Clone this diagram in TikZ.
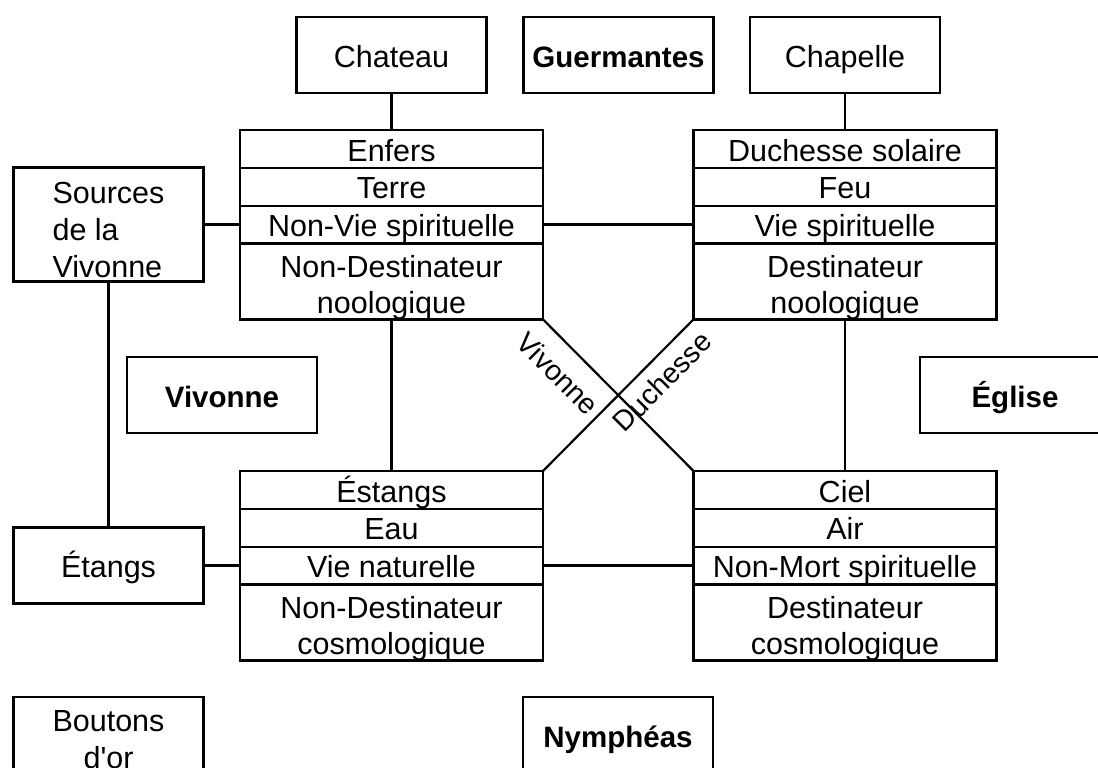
\documentclass[tikz,border=0pt]{standalone}
\usepackage{fontspec}
\setmainfont{Liberation Sans}
% several lines stacked, baseline on the first line
\newcommand\stacklines[2][c]{\begin{tabular}[t]{@{}#1@{}}#2\end{tabular}}
\begin{document}
\begin{tikzpicture}[x=1pt,y=-1pt,
  line width=2.2pt,
  every node/.style={inner sep=0pt,outer sep=0pt},
  txt/.style={font=\fontsize{30.5}{37}\selectfont},
  box/.style={txt,draw,minimum width=190pt,minimum height=76pt,text height=24.5pt,text depth=0pt},
  boldbox/.style={box,font=\fontsize{29.5}{37}\selectfont\bfseries},
  cell/.style={txt,draw,minimum width=303pt,minimum height=37.8pt,text height=24.5pt,text depth=0pt},
  dcell/.style={draw,minimum width=303pt,minimum height=76pt,text height=30pt,text depth=38.8pt,font=\fontsize{30.5}{36}\selectfont},
  diag/.style={font=\fontsize{28.5}{32}\selectfont,sloped,inner sep=0pt}
]
\useasboundingbox (0,0) rectangle (1098,768);
\clip (0,0) rectangle (1098,768);

% top row of boxes
\node[box] (chateau) at (391.5,55) {Chateau};
\node[boldbox] (guermantes) at (618.5,55) {Guermantes};
\node[box] (chapelle) at (845,55) {Chapelle};

% upper left table
\node[cell] (tl1) at (391.5,148.9) {Enfers};
\node[cell] (tl2) at (391.5,186.7) {Terre};
\node[cell] (tl3) at (391.5,224.5) {Non-Vie spirituelle};
\node[dcell] (tl4) at (391.5,281.4) {\stacklines{Non-Destinateur\\noologique}};

% upper right table
\node[cell] (tr1) at (845,148.9) {Duchesse solaire};
\node[cell] (tr2) at (845,186.7) {Feu};
\node[cell] (tr3) at (845,224.5) {Vie spirituelle};
\node[dcell] (tr4) at (845,281.4) {\stacklines{Destinateur\\noologique}};

% lower left table
\node[cell] (bl1) at (391.5,489.9) {Éstangs};
\node[cell] (bl2) at (391.5,527.7) {Eau};
\node[cell] (bl3) at (391.5,565.5) {Vie naturelle};
\node[dcell] (bl4) at (391.5,622.4) {\stacklines{Non-Destinateur\\cosmologique}};

% lower right table
\node[cell] (br1) at (845,489.9) {Ciel};
\node[cell] (br2) at (845,527.7) {Air};
\node[cell] (br3) at (845,565.5) {Non-Mort spirituelle};
\node[dcell] (br4) at (845,622.4) {\stacklines{Destinateur\\cosmologique}};

% side boxes
\node[box,minimum height=114pt,text height=30pt,text depth=72pt] (sources) at (108.5,224.5) {\stacklines[l]{Sources\\de la\\Vivonne}};
\node[boldbox] (vivonne) at (222,395) {Vivonne};
\node[boldbox] (eglise) at (1015,395) {Église};
\node[box] (etangs) at (108.5,565.5) {Étangs};
\node[box,text height=30pt,text depth=36.6pt] (boutons) at (108.5,735) {\stacklines{Boutons\\d\textquotesingle or}};
\node[boldbox] (nympheas) at (618,735) {Nymphéas};

% connectors
\draw (chateau.south) -- (tl1.north);
\draw (chapelle.south) -- (tr1.north);
\draw (sources.east) -- (tl3.west);
\draw (sources.south) -- (etangs.north);
\draw (etangs.east) -- (bl3.west);
\draw (tl3.east) -- (tr3.west);
\draw (bl3.east) -- (br3.west);
\draw (tl4.south) -- (bl1.north);
\draw (tr4.south) -- (br1.north);
\draw (tl4.south east) -- node[diag,pos=0.23,below=17pt] {Vivonne} (br1.north west);
\draw (bl1.north east) -- node[diag,pos=0.69,below=11pt] {Duchesse} (tr4.south west);
\end{tikzpicture}
\end{document}
